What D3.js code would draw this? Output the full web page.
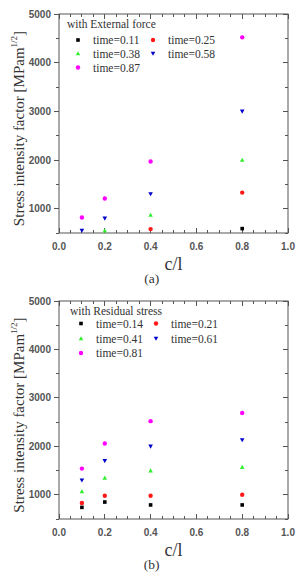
<!DOCTYPE html>
<html>
<head>
  <meta charset="utf-8" />
  <title>Stress intensity factor</title>
  <style>
    body { margin: 0; background: #fff; }
    .tick-label { font-family: Arial, "Liberation Sans", sans-serif; font-size: 10px; font-weight: bold; fill: #555; }
    .serif { font-family: "Times New Roman", "Liberation Serif", serif; fill: #333; }
    .frame { fill: none; stroke: #555; stroke-width: 1px; }
    .tk { stroke: #555; stroke-width: 1px; shape-rendering: crispEdges; }
  </style>
  <script src="https://cdnjs.cloudflare.com/ajax/libs/d3/7.8.5/d3.min.js"></script>
</head>
<body>
  <div id="chart"></div>
  <script>
    // c/l positions shared by both panels
    var cl = [0.1, 0.2, 0.4, 0.8];
    var xTicks = [0.0, 0.2, 0.4, 0.6, 0.8, 1.0];
    var yTicks = [1000, 2000, 3000, 4000, 5000];

    // (a) with External force -- null = below the visible range
    var timesA = ['0.11', '0.25', '0.38', '0.58', '0.87'];
    var valuesA = [
      [null, null, null, 590],
      [null, null, 580, 1330],
      [null, 550, 870, 2000],
      [550, 800, 1300, 3000],
      [820, 1210, 1970, 4520]
    ];

    // (b) with Residual stress
    var timesB = ['0.14', '0.21', '0.41', '0.61', '0.81'];
    var valuesB = [
      [740, 850, 790, 790],
      [830, 980, 980, 1000],
      [1070, 1350, 1500, 1570],
      [1300, 1700, 2000, 2130],
      [1540, 2060, 2520, 2690]
    ];

    var colors = ['#000000', '#ff1a1a', '#33ee33', '#0000cc', '#ff00ff'];
    var shapes = ['square', 'circle', 'up', 'down', 'circle'];

    var W = 298, H = 573;
    var svg = d3.select('#chart').append('svg')
      .attr('width', W)
      .attr('height', H);

    function marker(g, shape, color, x, y) {
      var s = 2.3;
      if (shape == 'square') {
        g.append('rect').attr('x', x - 1.8).attr('y', y - 1.8).attr('width', 3.6).attr('height', 3.6).attr('fill', color);
      } else if (shape == 'circle') {
        g.append('circle').attr('cx', x).attr('cy', y).attr('r', 2.2).attr('fill', color);
      } else if (shape == 'up') {
        g.append('path').attr('d', 'M' + x + ',' + (y - s) + 'L' + (x + s) + ',' + (y + s * 0.8) + 'L' + (x - s) + ',' + (y + s * 0.8) + 'Z').attr('fill', color);
      } else {
        g.append('path').attr('d', 'M' + x + ',' + (y + s) + 'L' + (x + s) + ',' + (y - s * 0.8) + 'L' + (x - s) + ',' + (y - s * 0.8) + 'Z').attr('fill', color);
      }
    }

    function panel(cfg) {
      var g = svg.append('g');
      var x = d3.scaleLinear().domain([0, 1]).range([cfg.left, cfg.right]);
      var y = d3.scaleLinear().domain([500, 5000]).range([cfg.bottom, cfg.top]);

      var clipId = 'clip' + cfg.name;
      svg.append('clipPath').attr('id', clipId)
        .append('rect')
        .attr('x', cfg.left).attr('y', cfg.top)
        .attr('width', cfg.right - cfg.left).attr('height', cfg.bottom - cfg.top);

      // ticks: x inward (minor every 0.05), y outward on left, inward on right
      d3.range(0, 21).forEach(function (i) {
        var v = i * 0.05, major = i % 4 == 0, len = major ? 5 : 3;
        g.append('line').attr('class', 'tk')
          .attr('x1', x(v)).attr('x2', x(v))
          .attr('y1', cfg.bottom).attr('y2', cfg.bottom - len);
        g.append('line').attr('class', 'tk')
          .attr('x1', x(v)).attr('x2', x(v))
          .attr('y1', cfg.top).attr('y2', cfg.top + len);
      });
      d3.range(500, 5001, 500).forEach(function (v) {
        var len = v % 1000 == 0 ? 5 : 3;
        g.append('line').attr('class', 'tk')
          .attr('x1', cfg.left).attr('x2', cfg.left - len)
          .attr('y1', y(v)).attr('y2', y(v));
        g.append('line').attr('class', 'tk')
          .attr('x1', cfg.right).attr('x2', cfg.right - len)
          .attr('y1', y(v)).attr('y2', y(v));
      });

      g.append('rect').attr('class', 'frame')
        .attr('x', cfg.left).attr('y', cfg.top)
        .attr('width', cfg.right - cfg.left).attr('height', cfg.bottom - cfg.top);

      g.selectAll('.xl').data(xTicks).enter().append('text')
        .attr('class', 'tick-label')
        .attr('x', d => x(d)).attr('y', cfg.bottom + 17)
        .attr('text-anchor', 'middle')
        .text(d => d.toFixed(1));
      g.selectAll('.yl').data(yTicks).enter().append('text')
        .attr('class', 'tick-label')
        .attr('x', cfg.left - 8).attr('y', d => y(d) + 3.5)
        .attr('text-anchor', 'end')
        .text(d => d);

      // axis titles
      g.append('text').attr('class', 'serif')
        .attr('x', x(0.5)).attr('y', cfg.bottom + 37)
        .attr('text-anchor', 'middle').style('font-size', '18px')
        .text('c/l');
      g.append('text').attr('class', 'serif')
        .attr('x', x(0.405)).attr('y', cfg.bottom + 50)
        .attr('text-anchor', 'middle').style('font-size', '13.5px')
        .text(cfg.label);
      var yt = g.append('text').attr('class', 'serif')
        .attr('transform', 'translate(24,' + ((cfg.top + cfg.bottom) / 2 + 5) + ') rotate(-90)')
        .attr('text-anchor', 'middle').style('font-size', '15px');
      yt.append('tspan').text('Stress intensity factor [MPam');
      yt.append('tspan').attr('dy', -7).style('font-size', '9px').text('1/2');
      yt.append('tspan').attr('dy', 7).text(']');

      // points
      var pg = g.append('g').attr('clip-path', 'url(#' + clipId + ')');
      cfg.values.forEach(function (row, s) {
        row.forEach(function (v, i) {
          if (v == null) return;
          marker(pg, shapes[s], colors[s], x(cl[i]), y(v));
        });
      });

      // legend
      var lx = cfg.left + cfg.legX, ly = cfg.top;
      g.append('text').attr('class', 'serif')
        .attr('x', lx - 11).attr('y', ly + 14)
        .style('font-size', '11.5px')
        .text(cfg.title);
      cfg.times.forEach(function (t, s) {
        var col = s % 2, row = Math.floor(s / 2);
        var mx = lx + col * 75, my = ly + cfg.legRows[row];
        marker(g, shapes[s], colors[s], mx, my);
        g.append('text').attr('class', 'serif')
          .attr('x', mx + 15).attr('y', my + 4)
          .style('font-size', '11.5px')
          .text('time=' + t);
      });
    }

    panel({ name: 'a', top: 14, bottom: 233, left: 59, right: 288, label: '(a)',
      title: 'with External force', times: timesA, values: valuesA, legX: 19, legRows: [26, 39.5, 53.5] });
    panel({ name: 'b', top: 301, bottom: 519, left: 59, right: 288, label: '(b)',
      title: 'with Residual stress', times: timesB, values: valuesB, legX: 22, legRows: [22.5, 37.5, 52] });
  </script>
</body>
</html>
